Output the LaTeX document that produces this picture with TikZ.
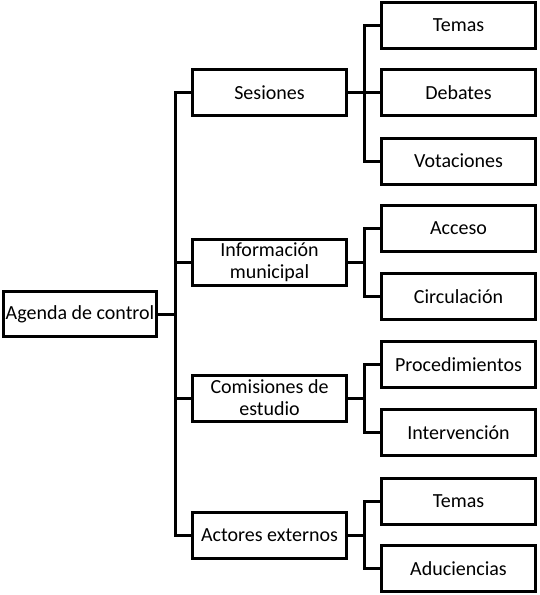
\documentclass[tikz,border=0pt]{standalone}
\usepackage{fontspec}
\setmainfont{Carlito}
\begin{document}
\begin{tikzpicture}[x=1pt,y=-1pt,
  box/.style={draw=black,line width=3pt,fill=white,rectangle,inner sep=0pt,
    minimum width=154pt,minimum height=46pt,align=center,
    font=\fontsize{20}{22}\selectfont},
  conn/.style={draw=black,line width=3pt,line join=miter}]
\useasboundingbox (0,0) rectangle (540,595);
\node[box,minimum width=153pt,minimum height=45pt] (root) at (80,314) {Agenda de control};
\node[box] (ses) at (269.5,92.5) {Sesiones};
\node[box] (info) at (269.5,262.5) {Información\\municipal};
\node[box] (com) at (269.5,398) {Comisiones de\\estudio};
\node[box] (act) at (269.5,535) {Actores externos};
\node[box] (tem1) at (458.5,25.5) {Temas};
\node[box] (deb) at (458.5,92.5) {Debates};
\node[box] (vot) at (458.5,161) {Votaciones};
\node[box] (acc) at (458.5,228.5) {Acceso};
\node[box] (cir) at (458.5,296.5) {Circulación};
\node[box] (pro) at (458.5,364.5) {Procedimientos};
\node[box] (int) at (458.5,432.5) {Intervención};
\node[box] (tem2) at (458.5,501) {Temas};
\node[box] (adu) at (458.5,568.5) {Aduciencias};
\coordinate (tx) at (175,0);
\coordinate (rx) at (364,0);
% main trunk
\draw[conn] (root.east) -- (root.east -| tx);
\draw[conn] (ses.west) -- (ses.west -| tx) -- (act.west -| tx) -- (act.west);
\draw[conn] (info.west) -- (info.west -| tx);
\draw[conn] (com.west) -- (com.west -| tx);
% Sesiones
\draw[conn] (tem1.west) -- (tem1.west -| rx) -- (vot.west -| rx) -- (vot.west);
\draw[conn] (ses.east) -- (deb.west);
% Informacion
\draw[conn] (acc.west) -- (acc.west -| rx) -- (cir.west -| rx) -- (cir.west);
\draw[conn] (info.east) -- (info.east -| rx);
% Comisiones
\draw[conn] (pro.west) -- (pro.west -| rx) -- (int.west -| rx) -- (int.west);
\draw[conn] (com.east) -- (com.east -| rx);
% Actores
\draw[conn] (tem2.west) -- (tem2.west -| rx) -- (adu.west -| rx) -- (adu.west);
\draw[conn] (act.east) -- (act.east -| rx);
\end{tikzpicture}
\end{document}
